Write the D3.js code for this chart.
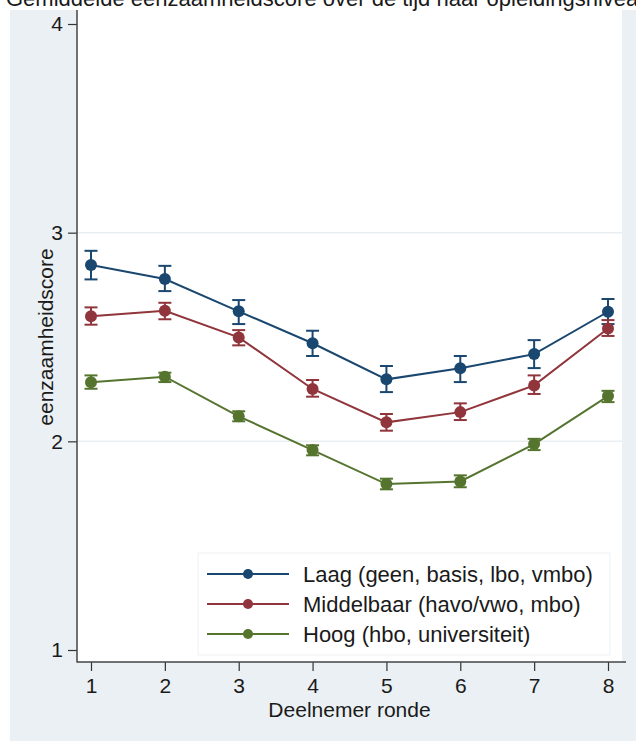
<!DOCTYPE html>
<html>
<head>
<meta charset="utf-8">
<script src="https://cdn.jsdelivr.net/npm/d3@7"></script>
<style>
  body { margin: 0; padding: 0; background: #ffffff; }
  svg text { font-family: "Liberation Sans", Arial, sans-serif; fill: #1a1a1a; }
</style>
</head>
<body>
<div id="chart"></div>
<script>
// Gemiddelde eenzaamheidscore per deelnemer ronde, naar opleidingsniveau

var rondes = [1, 2, 3, 4, 5, 6, 7, 8];
var yTicks = [1, 2, 3, 4];
var groepen = ["Laag (geen, basis, lbo, vmbo)", "Middelbaar (havo/vwo, mbo)", "Hoog (hbo, universiteit)"];
var kleuren = ["#1a476f", "#90353b", "#55752f"];

// gemiddelde
var laagMean = [2.845, 2.778, 2.623, 2.470, 2.297, 2.350, 2.418, 2.621];
var middelMean = [2.600, 2.626, 2.498, 2.251, 2.091, 2.140, 2.268, 2.541];
var hoogMean = [2.283, 2.310, 2.120, 1.958, 1.795, 1.808, 1.987, 2.217];

// betrouwbaarheidsinterval (onder / boven)
var laagLo = [2.776, 2.720, 2.562, 2.409, 2.236, 2.284, 2.351, 2.562];
var laagHi = [2.913, 2.841, 2.677, 2.530, 2.361, 2.409, 2.485, 2.682];
var middelLo = [2.559, 2.585, 2.460, 2.214, 2.051, 2.102, 2.227, 2.505];
var middelHi = [2.642, 2.664, 2.533, 2.294, 2.131, 2.182, 2.316, 2.581];
var hoogLo = [2.252, 2.284, 2.096, 1.933, 1.770, 1.780, 1.958, 2.188];
var hoogHi = [2.316, 2.329, 2.144, 1.981, 1.821, 1.837, 2.012, 2.242];

var titel = "Gemiddelde eenzaamheidscore over de tijd naar opleidingsniveau";

var series = [
  { name: groepen[0], color: kleuren[0], mean: laagMean, lo: laagLo, hi: laagHi },
  { name: groepen[1], color: kleuren[1], mean: middelMean, lo: middelLo, hi: middelHi },
  { name: groepen[2], color: kleuren[2], mean: hoogMean, lo: hoogLo, hi: hoogHi }
];

var width = 636, height = 741;
var plot = { left: 77, right: 622, top: 10, bottom: 662 };

var svg = d3.select("#chart").append("svg")
  .attr("width", width)
  .attr("height", height);

// background (graph region)
svg.append("rect").attr("width", width).attr("height", height).style("fill", "#ffffff");
svg.append("rect")
  .attr("x", 10).attr("y", 10)
  .attr("width", width - 10).attr("height", height - 10)
  .style("fill", "#eaf0f3");

// plot region
svg.append("rect")
  .attr("x", plot.left).attr("y", plot.top)
  .attr("width", plot.right - plot.left).attr("height", plot.bottom - plot.top)
  .style("fill", "#ffffff");

// title (cut off at the top, as in the original)
svg.append("text")
  .attr("x", 6).attr("y", 6)
  .style("font-size", "22px")
  .text(titel);

var x = d3.scaleLinear().domain([1, 8]).range([91, 608]);
var y = d3.scaleLinear().domain([1, 4]).range([650, 24]);

// gridlines
svg.selectAll(".grid")
  .data([2, 3])
  .enter().append("line")
  .attr("class", "grid")
  .attr("x1", plot.left).attr("x2", plot.right)
  .attr("y1", function(d) { return y(d); })
  .attr("y2", function(d) { return y(d); })
  .style("stroke", "#e9eef0")
  .style("stroke-width", 1.5);

// axes
var yAxis = svg.append("g")
  .attr("transform", "translate(" + plot.left + ",0)")
  .call(d3.axisLeft(y).tickValues(yTicks).tickSize(9).tickPadding(5).tickFormat(d3.format("d")));
var xAxis = svg.append("g")
  .attr("transform", "translate(0," + plot.bottom + ")")
  .call(d3.axisBottom(x).tickValues(rondes).tickSize(9).tickPadding(7).tickFormat(d3.format("d")));

[yAxis, xAxis].forEach(function(g) {
  g.select(".domain").remove();
  g.selectAll(".tick line").style("stroke", "#333").style("stroke-width", 1.2);
  g.selectAll(".tick text").style("font-size", "21px").style("font-family", "'Liberation Sans', Arial, sans-serif").style("fill", "#1a1a1a");
});

// axis lines
svg.append("line")
  .attr("x1", plot.left).attr("x2", plot.left)
  .attr("y1", plot.top).attr("y2", plot.bottom + 0.5)
  .style("stroke", "#444").style("stroke-width", 1.5);
svg.append("line")
  .attr("x1", plot.left).attr("x2", plot.right + 4)
  .attr("y1", plot.bottom).attr("y2", plot.bottom)
  .style("stroke", "#444").style("stroke-width", 1.5);

// axis titles
svg.append("text")
  .attr("x", (plot.left + plot.right) / 2)
  .attr("y", 717)
  .style("text-anchor", "middle")
  .style("font-size", "21px")
  .text("Deelnemer ronde");

svg.append("text")
  .attr("transform", "translate(53," + (y(1) + y(4)) / 2 + ") rotate(-90)")
  .style("text-anchor", "middle")
  .style("font-size", "21px")
  .text("eenzaamheidscore");

// lines, error bars, markers
var line = d3.line()
  .x(function(d, i) { return x(rondes[i]); })
  .y(function(d) { return y(d); });

var capW = 6.5;

series.forEach(function(s) {
  var g = svg.append("g");

  g.append("path")
    .datum(s.mean)
    .attr("d", line)
    .style("fill", "none")
    .style("stroke", s.color)
    .style("stroke-width", 2);

  var bars = g.selectAll(".err")
    .data(rondes)
    .enter().append("g");

  bars.append("line")
    .attr("x1", function(d) { return x(d); })
    .attr("x2", function(d) { return x(d); })
    .attr("y1", function(d, i) { return y(s.lo[i]); })
    .attr("y2", function(d, i) { return y(s.hi[i]); })
    .style("stroke", s.color).style("stroke-width", 2);
  bars.append("line")
    .attr("x1", function(d) { return x(d) - capW; })
    .attr("x2", function(d) { return x(d) + capW; })
    .attr("y1", function(d, i) { return y(s.lo[i]); })
    .attr("y2", function(d, i) { return y(s.lo[i]); })
    .style("stroke", s.color).style("stroke-width", 2);
  bars.append("line")
    .attr("x1", function(d) { return x(d) - capW; })
    .attr("x2", function(d) { return x(d) + capW; })
    .attr("y1", function(d, i) { return y(s.hi[i]); })
    .attr("y2", function(d, i) { return y(s.hi[i]); })
    .style("stroke", s.color).style("stroke-width", 2);

  g.selectAll(".pt")
    .data(s.mean)
    .enter().append("circle")
    .attr("cx", function(d, i) { return x(rondes[i]); })
    .attr("cy", function(d) { return y(d); })
    .attr("r", 6)
    .style("fill", s.color);
});

// legend
var legend = svg.append("g").attr("transform", "translate(198,553)");
legend.append("rect")
  .attr("width", 412).attr("height", 102)
  .style("fill", "#ffffff")
  .style("stroke", "#edf1f3")
  .style("stroke-width", 1);

var items = legend.selectAll(".legend")
  .data(series)
  .enter().append("g")
  .attr("class", "legend")
  .attr("transform", function(d, i) { return "translate(0," + (21 + i * 30) + ")"; });

items.append("line")
  .attr("x1", 9).attr("x2", 91)
  .style("stroke", function(d) { return d.color; })
  .style("stroke-width", 2);
items.append("circle")
  .attr("cx", 50).attr("r", 5)
  .style("fill", function(d) { return d.color; });
items.append("text")
  .attr("x", 105).attr("dy", "0.35em")
  .style("font-size", "22px")
  .text(function(d) { return d.name; });
</script>
</body>
</html>
